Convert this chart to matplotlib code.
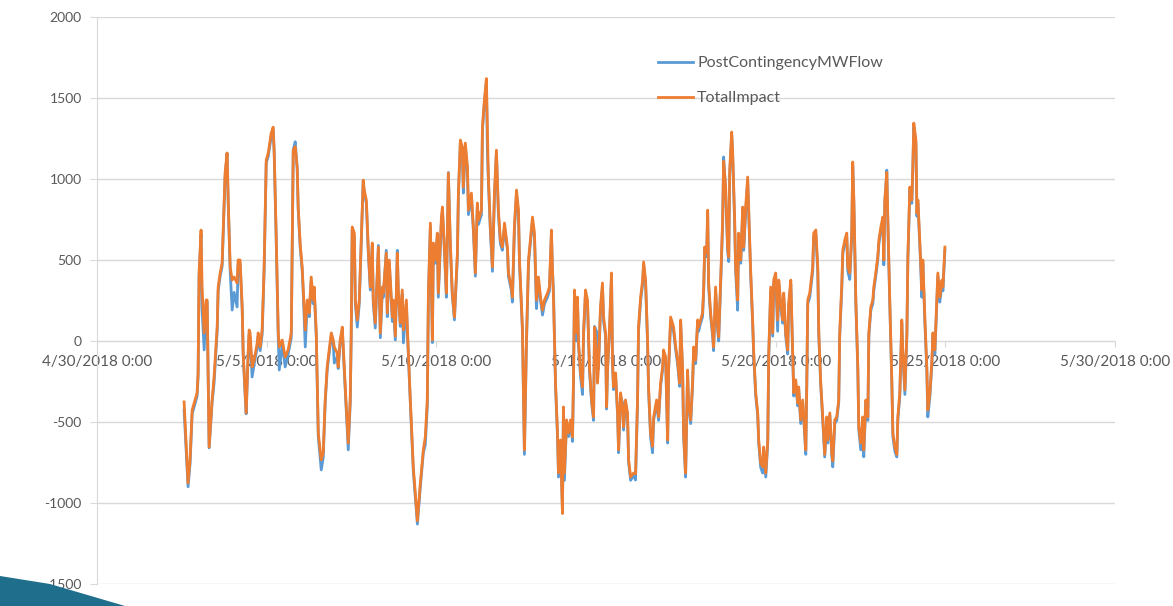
import numpy as np
import pandas as pd
import matplotlib
matplotlib.use('Agg')
import matplotlib.pyplot as plt
import matplotlib.dates as mdates
from matplotlib.patches import Polygon

plt.rcParams['font.family'] = ['Lato', 'DejaVu Sans']
plt.rcParams['axes.unicode_minus'] = False

# hours after 2018-05-02 0:00 for each reading
hours = [13.6, 16.4, 17.8, 19.3, 22.8, 23.5, 24.2, 25.6, 26.3, 27.8, 29.2, 29.9, 31.3, 33.4, 34.8, 37.0, 37.7, 39.1, 40.5, 42.6,
         44.0, 44.8, 46.2, 47.6, 49.0, 51.1, 51.8, 53.2, 54.7, 55.4, 56.8, 57.5, 58.9, 59.6, 60.3, 61.7, 63.2, 65.3, 66.0, 67.4,
         68.8, 70.2, 71.7, 73.1, 75.2, 76.6, 77.3, 78.7, 80.2, 80.9, 83.0, 85.1, 87.2, 89.4, 90.8, 92.2, 93.6, 94.3, 95.7, 97.1,
         97.9, 99.3, 100.7, 102.1, 103.5, 104.9, 105.6, 107.1, 108.5, 110.6, 112.0, 113.4, 114.8, 115.6, 117.7, 119.1, 119.8, 121.9, 122.6, 124.0,
         125.5, 126.9, 128.3, 129.7, 131.1, 131.8, 132.5, 134.0, 134.7, 136.1, 137.5, 138.9, 140.3, 141.0, 142.5, 143.9, 145.3, 146.7, 147.4, 148.8,
         151.0, 152.4, 153.8, 154.5, 156.6, 157.3, 158.7, 160.9, 161.6, 163.0, 164.4, 165.1, 166.5, 167.9, 168.7, 170.8, 171.5, 173.6, 175.7, 177.9,
         178.6, 180.7, 182.8, 184.2, 185.6, 186.4, 187.8, 189.2, 189.9, 191.3, 192.7, 193.4, 195.6, 196.3, 197.7, 199.1, 200.5, 201.9, 203.3, 204.8,
         206.9, 207.6, 209.0, 210.4, 211.1, 212.5, 214.0, 214.7, 216.8, 218.2, 219.6, 221.0, 221.8, 223.9, 224.6, 226.0, 227.4, 228.1, 228.8, 230.2,
         231.7, 233.1, 234.5, 235.9, 237.3, 238.7, 240.2, 242.3, 243.0, 245.1, 245.8, 247.2, 248.7, 250.1, 250.8, 252.9, 253.6, 254.3, 255.7, 257.2,
         259.3, 260.0, 261.4, 262.8, 264.2, 265.7, 267.1, 268.5, 270.6, 272.0, 273.4, 274.1, 274.9, 276.3, 277.7, 278.4, 279.8, 281.2, 281.9, 282.6,
         284.1, 285.5, 286.9, 288.3, 289.0, 289.7, 291.1, 291.8, 292.6, 294.0, 295.4, 296.1, 297.5, 298.9, 300.3, 301.8, 303.2, 303.9, 305.3, 306.0,
         306.7, 308.1, 309.5, 310.3, 311.7, 312.4, 313.1, 314.5, 315.9, 316.6, 317.3, 318.8, 320.2, 320.9, 322.3, 323.7, 324.4, 325.8, 327.2, 328.0,
         329.4, 331.5, 332.9, 334.3, 335.0, 336.5, 337.9, 338.6, 340.0, 341.4, 342.1, 343.5, 344.9, 345.7, 347.8, 349.2, 350.6, 352.0, 352.7, 354.2,
         355.6, 356.3, 357.7, 359.8, 361.2, 362.6, 364.1, 364.8, 366.2, 366.9, 368.3, 369.7, 370.4, 371.9, 373.3, 374.0, 375.4, 376.8, 377.5, 378.9,
         380.3, 381.1, 381.8, 383.2, 383.9, 384.6, 386.0, 387.4, 388.1, 389.5, 391.0, 391.7, 393.1, 394.5, 395.2, 396.6, 398.0, 398.8, 399.5, 400.9,
         401.6, 403.0, 403.7, 405.1, 405.8, 407.3, 408.7, 409.4, 410.8, 412.2, 412.9, 414.3, 415.7, 416.5, 417.9, 419.3, 420.0, 421.4, 422.8, 423.5,
         425.0, 426.4, 427.1, 428.5, 429.9, 430.6, 432.0, 433.4, 434.2, 435.6, 437.0, 437.7, 439.1, 440.5, 441.2, 442.7, 444.1, 444.8, 446.2, 447.6,
         448.3, 449.7, 451.1, 451.9, 453.3, 454.0, 454.7, 456.1, 458.2, 458.9, 460.4, 461.8, 462.5, 463.9, 465.3, 466.7, 468.1, 468.8, 470.3, 471.7,
         472.4, 473.8, 475.2, 476.6, 477.3, 478.8, 479.5, 480.9, 482.3, 483.0, 484.4, 485.8, 486.5, 487.3, 488.7, 490.1, 490.8, 492.2, 493.6, 494.3,
         495.8, 497.2, 497.9, 499.3, 500.7, 501.4, 502.8, 504.2, 505.0, 506.4, 507.8, 508.5, 509.2, 510.6, 511.3, 512.7, 514.2, 514.9, 516.3, 517.7,
         518.4, 519.8, 521.2, 521.9, 523.4, 524.8, 525.5, 526.9, 528.3, 529.0, 529.7, 531.2, 531.9, 532.6, 534.0, 535.4, 536.1, 537.5, 538.9, 539.6,
         541.1, 542.5, 543.2, 544.6, 546.0, 546.7, 548.1, 549.6, 550.3, 551.7]

total_impact = [-376, -876, -734, -426, -320, -200, 420, 685, 333, 50, 253, 253, -654, -364, -222, 86, 333, 420, 481, 1037,
                1160, 870, 457, 376, 395, 358, 500, 500, 210, -74, -320, -444, -74, 68, 50, -160, -117, -12, 50, -37,
                68, 457, 1117, 1160, 1283, 1320, 1178, 666, 50, -37, 6, -99, -55, 50, 1178, 1200, 1074, 827, 600, 457,
                315, 68, 253, 173, 395, 253, 333, 50, -568, -734, -691, -364, -160, -99, 50, 6, -37, -74, -160, 6,
                86, -160, -407, -630, -364, 50, 704, 666, 253, 130, 253, 623, 993, 932, 870, 561, 333, 605, 253, 111,
                580, 50, 333, 296, 543, 173, 500, 148, 253, 30, 543, 315, 111, 315, 68, 253, 86, -364, -777, -1024,
                -1110, -876, -672, -592, -364, 296, 728, 6, 605, 500, 666, 296, 765, 827, 580, 296, 1037, 605, 296, 148,
                543, 913, 1240, 1197, 950, 1222, 1074, 808, 913, 704, 420, 852, 747, 808, 1320, 1487, 1620, 1320, 1012, 704,
                457, 913, 1178, 808, 623, 580, 728, 580, 420, 333, 271, 704, 932, 808, 500, 86, -320, -672, -12, 500,
                704, 765, 666, 253, 395, 271, 191, 253, 296, 333, 685, 457, 253, -260, -568, -815, -611, -1065, -407, -815,
                -487, -568, -487, -592, -240, 315, 50, 271, -12, -197, -284, 50, 315, 253, -160, -364, -469, 86, -74, -260,
                -160, 210, 358, 148, 50, -407, -160, 86, 420, -117, -284, -197, -444, -672, -320, -407, -530, -364, -444, -734,
                -839, -815, -820, -364, 86, 271, 376, 488, 376, 6, -284, -568, -650, -469, -364, -469, -260, -160, -55, -99,
                -611, -160, 148, 86, -30, -117, -260, 130, -179, -568, -815, -179, -383, -487, -240, -37, -117, 130, 86, 130,
                173, 333, 580, 543, 808, 358, 173, 50, -37, 333, 86, 25, 376, 747, 1110, 950, 580, 518, 1055, 1290,
                1160, 747, 457, 253, 666, 500, 827, 580, 827, 1012, 827, 438, 130, -74, -320, -444, -611, -753, -777, -654,
                -815, -611, -74, 333, 50, 376, 420, 130, 376, 234, 130, 296, 50, -55, 234, 376, -74, -320, -240, -383,
                -284, -487, -364, -469, -672, -260, 253, 296, 457, 666, 685, 457, 50, -260, -469, -700, -469, -611, -444, -691,
                -740, -487, -469, -364, 50, 358, 561, 623, 666, 457, 420, 666, 1105, 870, 253, -160, -530, -630, -469, -672,
                -364, -469, 50, 210, 253, 333, 420, 518, 623, 704, 765, 500, 870, 1040, 765, 253, -260, -568, -654, -700,
                -469, -320, 130, -55, -302, 50, 518, 950, 870, 1074, 1345, 1240, 790, 870, 605, 315, 500, 148, -160, -426,
                -320, -117, 50, -55, 253, 420, 271, 376, 333, 580]

post_contingency_flow = [-426, -900, -760, -450, -340, -220, 400, 660, 200, -55, 230, 240, -660, -380, -260, 60, 310, 400, 460, 1010,
                         1160, 850, 430, 191, 300, 210, 470, 480, 190, -90, -340, -450, -90, 40, 20, -222, -140, -40, 30, -60,
                         40, 430, 1100, 1140, 1260, 1300, 1160, 640, 20, -179, -20, -160, -80, 20, 1180, 1230, 1060, 810, 580, 440,
                         290, -37, 230, 150, 370, 230, 310, 20, -590, -796, -720, -380, -180, -120, 30, -20, -136, -100, -170, -10,
                         60, -180, -420, -672, -380, 30, 690, 640, 230, 86, 230, 600, 990, 910, 850, 540, 315, 590, 230, 80,
                         590, 20, 310, 270, 560, 150, 480, 120, 230, 6, 560, 290, 90, 290, -12, 230, 60, -380, -800, -1050,
                         -1130, -900, -690, -640, -407, 270, 710, -10, 580, 480, 640, 270, 740, 800, 560, 270, 1040, 580, 280, 130,
                         520, 890, 1220, 1170, 913, 1200, 1050, 780, 890, 680, 400, 830, 720, 780, 1300, 1470, 1600, 1178, 990, 680,
                         430, 890, 1160, 780, 600, 560, 700, 560, 400, 310, 240, 680, 910, 780, 480, 60, -340, -700, -30, 480,
                         680, 740, 640, 200, 370, 250, 160, 230, 270, 310, 660, 440, 290, -280, -590, -840, -630, -1040, -420, -860,
                         -500, -590, -500, -620, -260, 290, 0, 250, -30, -220, -330, 30, 290, 230, -180, -380, -490, 90, 60, -100,
                         -170, 190, 330, 120, 30, -420, -180, 60, 400, -140, -300, -220, -460, -690, -340, -380, -550, -380, -460, -750,
                         -860, -830, -858, -380, 60, 250, 350, 470, 350, -20, -300, -590, -690, -490, -380, -490, -280, -180, -80, -120,
                         -630, -180, 120, 60, -50, -140, -280, 110, -200, -590, -840, -200, -400, -510, -260, -60, -140, 110, 60, 110,
                         150, 310, 560, 520, 790, 330, 150, 30, -60, 310, 60, 0, 350, 720, 1136, 930, 560, 490, 1030, 1270,
                         1140, 720, 430, 190, 640, 480, 800, 560, 800, 990, 800, 410, 110, -100, -340, -460, -630, -780, -815, -680,
                         -840, -630, -100, 310, 30, 350, 400, 60, 350, 210, 110, 270, 30, -80, 210, 350, -100, -340, -260, -400,
                         -300, -510, -380, -490, -700, -280, 230, 270, 430, 640, 660, 420, 30, -280, -490, -716, -490, -630, -460, -710,
                         -777, -510, -490, -380, 30, 330, 540, 600, 640, 430, 380, 640, 1080, 850, 230, -180, -550, -672, -490, -715,
                         -380, -490, 30, 190, 230, 310, 400, 500, 600, 680, 740, 470, 850, 1055, 740, 230, -280, -590, -680, -716,
                         -490, -340, 110, -80, -330, 30, 500, 930, 850, 1050, 1320, 1220, 770, 850, 580, 270, 480, 120, -180, -469,
                         -340, -140, 30, -80, 230, 400, 240, 350, 310, 560]

date_ticks = ['2018-04-30', '2018-05-05', '2018-05-10', '2018-05-15', '2018-05-20', '2018-05-25', '2018-05-30']
y_ticks = [-1500, -1000, -500, 0, 500, 1000, 1500, 2000]

times = pd.Timestamp('2018-05-02') + pd.to_timedelta(hours, unit='h')

grid_c = '#D9D9D9'
text_c = '#595959'

fig = plt.figure(figsize=(11.73, 6.06), dpi=100)
ax = fig.add_axes([97 / 1173, 1 - 584 / 606, (1115 - 97) / 1173, (584 - 17) / 606])

ax.plot(times, post_contingency_flow, color='#5B9BD5', lw=2.0, label='PostContingencyMWFlow', solid_joinstyle='round')
ax.plot(times, total_impact, color='#ED7D31', lw=2.0, label='TotalImpact', solid_joinstyle='round')

ax.set_xlim(pd.Timestamp(date_ticks[0]), pd.Timestamp(date_ticks[-1]))
ax.set_ylim(-1500, 2000)
ax.set_yticks(y_ticks)
ax.set_xticks([pd.Timestamp(d) for d in date_ticks])
ax.xaxis.set_major_formatter(mdates.DateFormatter('%-m/%-d/%Y %-H:%M'))

ax.grid(axis='y', color=grid_c, lw=1)
ax.set_axisbelow(True)
for s in ['top', 'right']:
    ax.spines[s].set_visible(False)
ax.spines['left'].set_color(grid_c)
ax.spines['bottom'].set_color(grid_c)
ax.spines['bottom'].set_position(('data', 0))
ax.spines['bottom'].set_zorder(0.5)

ax.tick_params(axis='y', direction='out', length=5, color=grid_c, labelcolor=text_c, labelsize=10, pad=6)
ax.tick_params(axis='x', direction='out', length=4, color=grid_c, labelcolor=text_c, labelsize=11, pad=6)
for lbl in ax.get_xticklabels():
    lbl.set_zorder(3)

leg = ax.legend(loc='upper left', bbox_to_anchor=(658 / 1173, 1 - 56 / 606), bbox_transform=fig.transFigure,
                frameon=False, fontsize=11.5, handlelength=2.2, handletextpad=0.25, labelspacing=1.3,
                borderpad=0, borderaxespad=0)
for t in leg.get_texts():
    t.set_color(text_c)

# slide corner decoration
fig.patches.append(Polygon([(0, 0), (0, 30 / 606), (50 / 1173, 22 / 606), (125 / 1173, 0)],
                           closed=True, transform=fig.transFigure, facecolor='#1E6E8C', edgecolor='none'))

fig.savefig('out.png', dpi=100)
